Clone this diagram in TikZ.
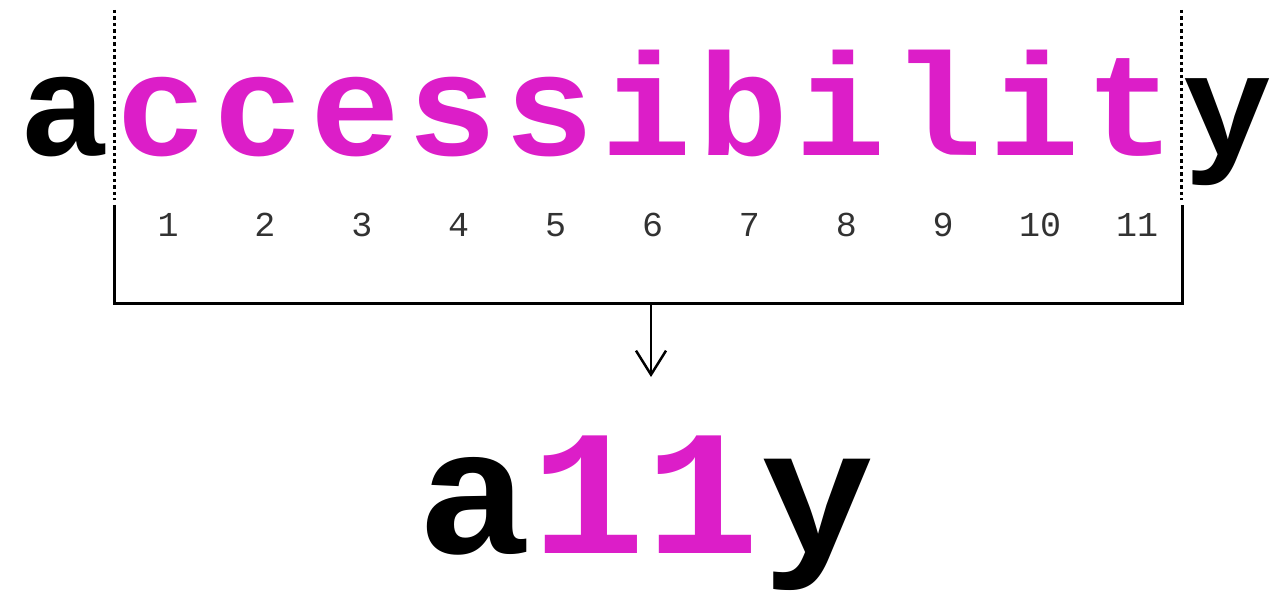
\documentclass[tikz,border=0pt]{standalone}
\usepackage{fontspec}
\setmonofont{Liberation Mono}
\usetikzlibrary{arrows.meta}
\definecolor{mag}{RGB}{220,30,200}
\definecolor{numgray}{RGB}{50,50,50}
\tikzset{
  bigletter/.style={inner sep=0pt, anchor=base, font=\ttfamily\bfseries\fontsize{150}{150}\selectfont},
  resword/.style={inner sep=0pt, anchor=base, font=\ttfamily\bfseries\fontsize{190}{190}\selectfont},
  numlabel/.style={inner sep=0pt, anchor=base, text=numgray, font=\ttfamily\fontsize{35}{35}\selectfont},
  dotline/.style={line width=3pt, dash pattern=on 3.5pt off 3pt},
  bracket/.style={line width=3pt},
  arr/.style={line width=2.5pt, -{Straight Barb[length=24pt,width=30pt,line width=2.5pt]}}
}
\begin{document}
\begin{tikzpicture}[x=1pt,y=-1pt]
\useasboundingbox (0,0) rectangle (1281,593);
\foreach \ch/\col [count=\k from 0] in {a/black,c/mag,c/mag,e/mag,s/mag,s/mag,i/mag,b/mag,i/mag,l/mag,i/mag,t/mag,y/black} {
  \node[bigletter, text=\col] (l\k) at ({65+96.9*\k},156) {\scalebox{1}[0.97]{\ch}};
}
\foreach \i in {1,...,11} {
  \node[numlabel] (n\i) at ({168+96.9*(\i-1)},237) {\i};
}
\coordinate (dlt) at (114,10);
\coordinate (dlb) at (114,200);
\coordinate (drt) at (1181,10);
\coordinate (drb) at (1181,200);
\draw[dotline] (dlt) -- (dlb);
\draw[dotline] (drt) -- (drb);
\coordinate (bl) at (114,205);
\coordinate (br) at (1182,205);
\coordinate (bm) at (651,304);
\coordinate (tip) at (651,377);
\draw[bracket] (bl) |- (bm) -| (br);
\draw[arr] (bm) -- (tip);
\node[resword] (abbr) at (646,553) {\scalebox{1}[0.94]{a\textcolor{mag}{11}y}};
\end{tikzpicture}
\end{document}
